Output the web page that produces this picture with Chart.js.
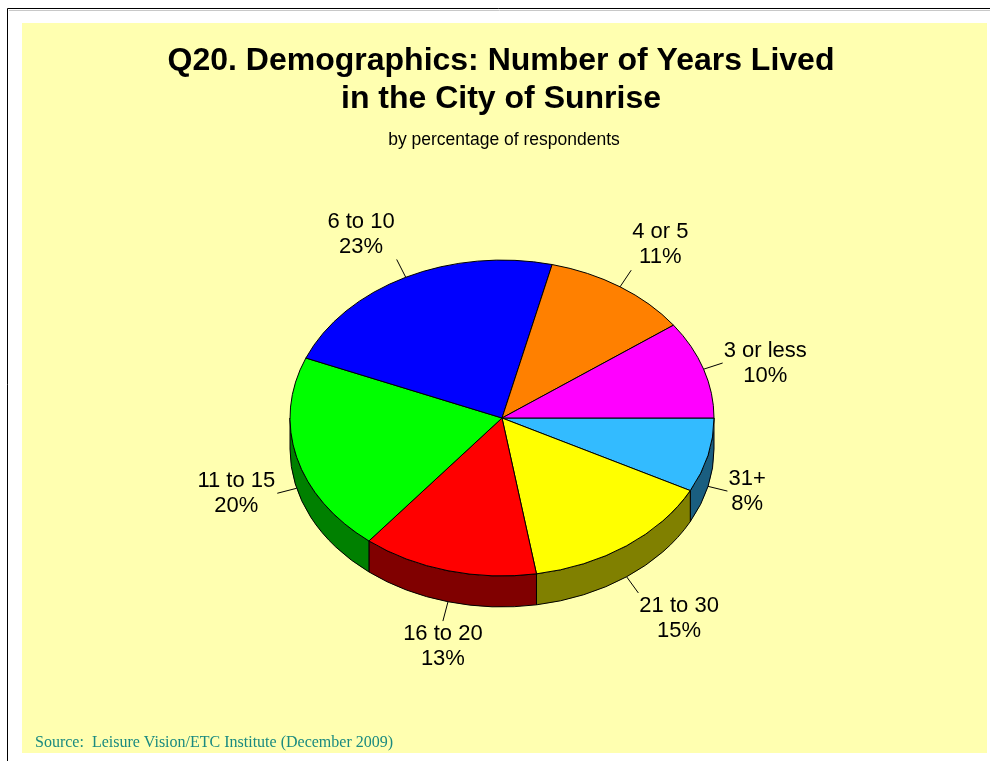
<!DOCTYPE html>
<html>
<head>
<meta charset="utf-8">
<script src="https://cdn.jsdelivr.net/npm/chart.js@4.4.0/dist/chart.umd.min.js"></script>
<style>
  html, body { margin: 0; padding: 0; background: #fff; }
  #wrap { width: 990px; height: 761px; }
</style>
</head>
<body>
<div id="wrap"><canvas id="chart" width="990" height="761"></canvas></div>
<script>
// data, clockwise from 3 o'clock (labels show the rounded share)
var categories = ['31+', '21 to 30', '16 to 20', '11 to 15', '6 to 10', '4 or 5', '3 or less'];
var percents = [7.6, 14.8, 13.4, 20.4, 22.6, 11.2, 10.0];
var titleLines = ['Q20. Demographics: Number of Years Lived', 'in the City of Sunrise'];
var subtitleText = 'by percentage of respondents';
var sourceText = 'Source:  Leisure Vision/ETC Institute (December 2009)';

var sliceColors = ['#33bbff', '#ffff00', '#ff0000', '#00ff00', '#0000ff', '#ff8000', '#ff00ff'];
var TILT = 0.745;   // vertical squash of the pie top
var DEPTH = 31;     // thickness of the pie
var SANS = "'Liberation Sans', Arial, sans-serif";

function darker(hex) {
  var n = parseInt(hex.slice(1), 16);
  var r = Math.round(((n >> 16) & 255) / 2);
  var g = Math.round(((n >> 8) & 255) / 2);
  var b = Math.round((n & 255) / 2);
  return 'rgb(' + r + ',' + g + ',' + b + ')';
}

var pie3d = {
  id: 'pie3d',
  beforeDraw: function (chart) {
    var ctx = chart.ctx;
    ctx.save();
    ctx.fillStyle = '#fff';
    ctx.fillRect(0, 0, chart.width, chart.height);
    ctx.fillStyle = '#ffffb0';
    ctx.fillRect(22, 23, 965, 730);
    ctx.strokeStyle = '#c8c8c8';
    ctx.lineWidth = 1;
    ctx.beginPath();
    ctx.moveTo(9, 10.5);
    ctx.lineTo(990, 10.5);
    ctx.stroke();
    ctx.strokeStyle = '#000';
    ctx.beginPath();
    ctx.moveTo(7.5, 761);
    ctx.lineTo(7.5, 8.5);
    ctx.lineTo(990, 8.5);
    ctx.stroke();
    ctx.restore();
  },
  beforeDatasetsDraw: function (chart) {
    var ctx = chart.ctx;
    var arcs = chart.getDatasetMeta(0).data;
    var cx = arcs[0].x, cy = arcs[0].y;
    var rx = arcs[0].outerRadius, ry = rx * TILT;
    ctx.save();
    ctx.lineWidth = 1;
    ctx.strokeStyle = '#000';
    ctx.lineJoin = 'round';

    // side walls on the front half
    arcs.forEach(function (arc) {
      var s = Math.max(arc.startAngle, 0);
      var e = Math.min(arc.endAngle, Math.PI);
      if (e <= s) return;
      ctx.beginPath();
      ctx.ellipse(cx, cy, rx, ry, 0, s, e);
      ctx.ellipse(cx, cy + DEPTH, rx, ry, 0, e, s, true);
      ctx.closePath();
      ctx.fillStyle = darker(arc.options.backgroundColor);
      ctx.fill();
      ctx.stroke();
    });

    // top faces
    arcs.forEach(function (arc) {
      ctx.beginPath();
      ctx.moveTo(cx, cy);
      ctx.ellipse(cx, cy, rx, ry, 0, arc.startAngle, arc.endAngle);
      ctx.closePath();
      ctx.fillStyle = arc.options.backgroundColor;
      ctx.fill();
      ctx.stroke();
    });
    ctx.restore();
    return false;
  },
  afterDraw: function (chart) {
    var ctx = chart.ctx;
    var arcs = chart.getDatasetMeta(0).data;
    var cx = arcs[0].x, cy = arcs[0].y;
    var rx = arcs[0].outerRadius, ry = rx * TILT;
    var values = chart.data.datasets[0].data;
    ctx.save();

    // titles
    ctx.fillStyle = '#000';
    ctx.textAlign = 'center';
    ctx.textBaseline = 'middle';
    ctx.font = 'bold 32px ' + SANS;
    ctx.fillText(titleLines[0], 501, 61);
    ctx.fillText(titleLines[1], 501, 99);
    ctx.font = '17.5px ' + SANS;
    ctx.fillText(subtitleText, 504, 140);

    // data labels with leader lines
    ctx.font = '22px ' + SANS;
    ctx.strokeStyle = '#000';
    ctx.lineWidth = 1;
    arcs.forEach(function (arc, i) {
      var m = (arc.startAngle + arc.endAngle) / 2;
      var c = Math.cos(m), s = Math.sin(m);
      var ax = cx + rx * c;
      var ay = cy + ry * s + (s > 0 ? DEPTH : 0);
      var lx = ax + 20 * c, ly = ay + 20 * s;
      ctx.beginPath();
      ctx.moveTo(ax, ay);
      ctx.lineTo(lx, ly);
      ctx.stroke();

      var lines = [chart.data.labels[i], Math.round(values[i]) + '%'];
      var w = Math.max(ctx.measureText(lines[0]).width, ctx.measureText(lines[1]).width);
      var tx;
      if (c > 0.35) tx = lx + 1 + w / 2;
      else if (c < -0.35) tx = lx - 2 - w / 2;
      else tx = lx;
      var y1;
      if (s > 0.5) y1 = ly + 13;
      else if (s < -0.5) y1 = ly - 13 - 25;
      else y1 = ly - 12.5;
      ctx.textAlign = 'center';
      ctx.fillText(lines[0], tx, y1);
      ctx.fillText(lines[1], tx, y1 + 25);
    });

    // source note
    ctx.textAlign = 'left';
    ctx.textBaseline = 'alphabetic';
    ctx.fillStyle = '#1a8a80';
    ctx.font = "16px 'Liberation Serif', 'Times New Roman', serif";
    ctx.fillText(sourceText, 35, 747);
    ctx.restore();
  }
};

new Chart(document.getElementById('chart'), {
  type: 'pie',
  data: {
    labels: categories,
    datasets: [{
      data: percents,
      backgroundColor: sliceColors,
      borderColor: '#000',
      borderWidth: 1,
      radius: 212
    }]
  },
  options: {
    responsive: false,
    animation: false,
    devicePixelRatio: 1,
    rotation: 90,
    layout: { padding: { left: 114, right: 100, top: 150, bottom: 75 } },
    plugins: {
      legend: { display: false },
      title: { display: false },
      tooltip: { enabled: false }
    }
  },
  plugins: [pie3d]
});
</script>
</body>
</html>
